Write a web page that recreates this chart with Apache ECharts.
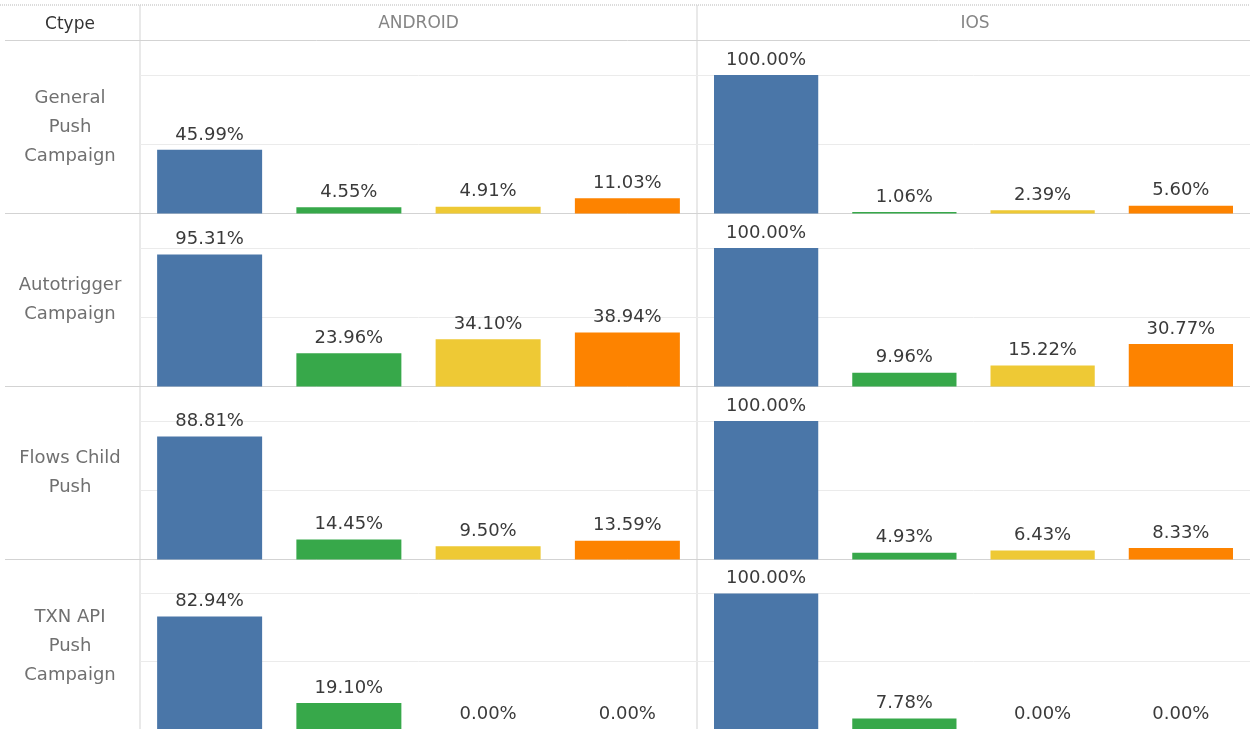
<!DOCTYPE html>
<html>
<head>
<meta charset="utf-8">
<title>Ctype by platform</title>
<script src="https://cdn.jsdelivr.net/npm/echarts@6/dist/echarts.min.js"></script>
<style>
  html, body { margin: 0; padding: 0; background: #fff; }
  #chart { width: 1250px; height: 729px; }
</style>
</head>
<body>
<div id="chart"></div>
<script>
// 数据
const ctypes = ['General\nPush\nCampaign', 'Autotrigger\nCampaign', 'Flows Child\nPush', 'TXN API\nPush\nCampaign'];
const platforms = ['ANDROID', 'IOS'];
const measures = ['Measure 1', 'Measure 2', 'Measure 3', 'Measure 4'];
const androidValues = [
  [45.99, 4.55, 4.91, 11.03],
  [95.31, 23.96, 34.10, 38.94],
  [88.81, 14.45, 9.50, 13.59],
  [82.94, 19.10, 0.00, 0.00],
];
const iosValues = [
  [100.00, 1.06, 2.39, 5.60],
  [100.00, 9.96, 15.22, 30.77],
  [100.00, 4.93, 6.43, 8.33],
  [100.00, 7.78, 0.00, 0.00],
];
const barColors = ['#4a76a8', '#37a84a', '#eec935', '#fd8300'];

// 布局
const FONT = '"DejaVu Sans", sans-serif';
const headerH = 40.5;
const rowH = 173;
const labelW = 140;
const paneLeft = [140, 697];
const paneW = [557, 556];
const lineColor = '#d3d3d3';

const chart = echarts.init(document.getElementById('chart'));

const grids = [], xAxes = [], yAxes = [], series = [];
const valuesByPane = [androidValues, iosValues];

ctypes.forEach((ctype, r) => {
  platforms.forEach((p, c) => {
    const idx = grids.length;
    grids.push({
      left: paneLeft[c],
      width: paneW[c],
      top: headerH + r * rowH,
      height: rowH,
    });
    xAxes.push({
      type: 'category',
      gridIndex: idx,
      data: measures,
      axisLine: { show: false },
      axisTick: { show: false },
      axisLabel: { show: false },
    });
    yAxes.push({
      type: 'value',
      gridIndex: idx,
      min: 0,
      max: 125,
      interval: 50,
      axisLine: { show: false },
      axisTick: { show: false },
      axisLabel: { show: false },
      splitLine: {
        showMinLine: false,
        showMaxLine: false,
        lineStyle: { color: '#ebebeb', width: 1 },
      },
    });
    series.push({
      name: ctype.replace(/\n/g, ' ') + ' / ' + p,
      type: 'bar',
      xAxisIndex: idx,
      yAxisIndex: idx,
      barCategoryGap: '24.6%',
      data: valuesByPane[c][r],
      itemStyle: {
        color: (d) => barColors[d.dataIndex],
      },
      label: {
        show: true,
        position: 'top',
        distance: 6,
        fontFamily: FONT,
        fontSize: 18,
        color: '#3a3a3a',
        formatter: (d) => d.value.toFixed(2) + '%',
      },
      silent: true,
    });
  });
});

// 表格线和表头
const graphic = [];
const hLine = (y, x1, x2, extra) => graphic.push({
  type: 'line',
  shape: { x1: x1, y1: y, x2: x2, y2: y },
  style: Object.assign({ stroke: lineColor, lineWidth: 1 }, extra || {}),
  silent: true,
});
const vLine = (x, y1, y2) => graphic.push({
  type: 'line',
  shape: { x1: x, y1: y1, x2: x, y2: y2 },
  style: { stroke: lineColor, lineWidth: 1 },
  silent: true,
});

hLine(5, 0, 1250, { stroke: '#b8b8b8', lineDash: [1, 1] });
hLine(headerH, 5, 1250);
for (let r = 1; r <= ctypes.length; r++) {
  hLine(headerH + r * rowH, 5, 1250);
}
vLine(paneLeft[0], 5, 729);
vLine(paneLeft[1], 5, 729);

graphic.push({
  type: 'text',
  x: labelW / 2, y: 25,
  style: { text: 'Ctype', align: 'center', verticalAlign: 'middle', fontFamily: FONT, fontSize: 17, fill: '#333' },
  silent: true,
});
platforms.forEach((p, c) => {
  graphic.push({
    type: 'text',
    x: paneLeft[c] + paneW[c] / 2, y: 24,
    style: { text: p, align: 'center', verticalAlign: 'middle', fontFamily: FONT, fontSize: 17, fill: '#858585' },
    silent: true,
  });
});
ctypes.forEach((ctype, r) => {
  graphic.push({
    type: 'text',
    x: labelW / 2, y: headerH + r * rowH + rowH / 2,
    style: {
      text: ctype, align: 'center', verticalAlign: 'middle',
      fontFamily: FONT, fontSize: 18, lineHeight: 29, fill: '#707070',
    },
    silent: true,
  });
});

chart.setOption({
  animation: false,
  grid: grids,
  xAxis: xAxes,
  yAxis: yAxes,
  series: series,
  graphic: graphic,
});
</script>
</body>
</html>
